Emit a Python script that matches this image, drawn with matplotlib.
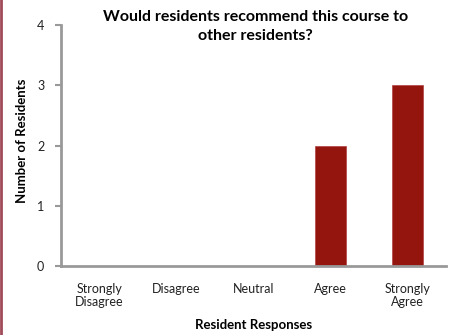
import numpy as np
import matplotlib.pyplot as plt
from matplotlib.lines import Line2D

plt.rcParams['font.family'] = ['Lato', 'DejaVu Sans']

categories = ['Strongly\nDisagree', 'Disagree', 'Neutral', 'Agree', 'Strongly\nAgree']
counts = [0, 0, 0, 2, 3]
yticks = [0, 1, 2, 3, 4]

fig = plt.figure(figsize=(4.5, 3.35), dpi=100)
ax = fig.add_axes([0.1356, 0.206, 0.855, 0.719])

x = np.arange(len(categories))
ax.bar(x, counts, width=0.4, color='#93150e', edgecolor='#b04040', linewidth=0.5, zorder=2)

ax.set_xlim(-0.5, len(categories) - 0.5)
ax.set_ylim(0, 4)
ax.set_yticks(yticks)
ax.set_xticks(x)
ax.set_xticklabels(categories, fontsize=9, color='#222222', linespacing=1.15)
ax.tick_params(axis='x', length=0, pad=12)
ax.tick_params(axis='y', length=4, width=1.5, color='#999999', labelsize=9, pad=8, labelcolor='#222222')

for s in ['top', 'right']:
    ax.spines[s].set_visible(False)
for s in ['left', 'bottom']:
    ax.spines[s].set_color('#999999')
    ax.spines[s].set_linewidth(2)

ax.set_ylabel('Number of Residents', fontsize=9.5, fontweight='bold')
ax.yaxis.set_label_coords(-0.085, 0.52)
ax.set_xlabel('Resident Responses', fontsize=9.5, fontweight='bold', labelpad=8)
fig.text(0.567, 0.922, 'Would residents recommend this course to\nother residents?',
         ha='center', va='center', fontsize=11.5, fontweight='bold', linespacing=1.45)

fig.add_artist(Line2D([0.003, 0.003], [0, 1], transform=fig.transFigure,
                      color='#a04a58', linewidth=2))

fig.savefig('out.png', dpi=100)
